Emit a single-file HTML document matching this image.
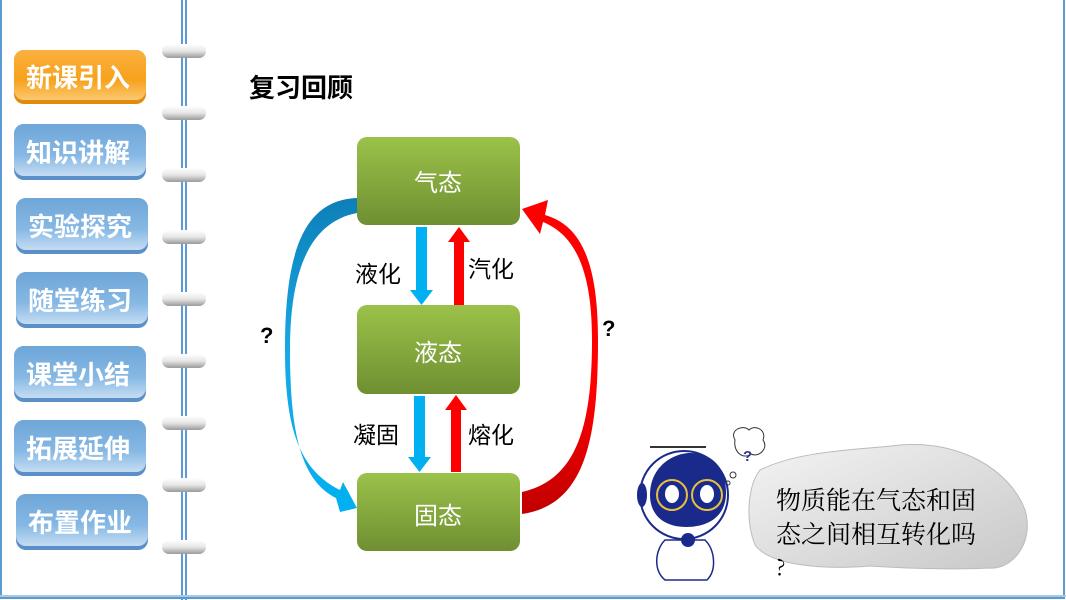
<!DOCTYPE html>
<html><head><meta charset="utf-8"><style>
body{margin:0;width:1066px;height:600px;overflow:hidden;background:#fff;font-family:"Liberation Sans","Noto Sans CJK SC",sans-serif;}
</style></head><body>
<svg width="1066" height="600" viewBox="0 0 1066 600" xmlns="http://www.w3.org/2000/svg" style="position:absolute;left:0;top:0">
<defs>
<linearGradient id="or" x1="0" y1="0" x2="0" y2="1"><stop offset="0" stop-color="#fbb040"/><stop offset="0.6" stop-color="#f7a21c"/><stop offset="1" stop-color="#fcc870"/></linearGradient>
<linearGradient id="bl" x1="0" y1="0" x2="0" y2="1"><stop offset="0" stop-color="#6ea6d8"/><stop offset="0.6" stop-color="#86b8e4"/><stop offset="1" stop-color="#c6ddf3"/></linearGradient>
<linearGradient id="gr" x1="0" y1="0" x2="0" y2="1"><stop offset="0" stop-color="#9bc24a"/><stop offset="1" stop-color="#6f8f32"/></linearGradient>
<linearGradient id="ring" x1="0" y1="0" x2="0" y2="1"><stop offset="0" stop-color="#fff"/><stop offset="0.5" stop-color="#e6e6e6"/><stop offset="1" stop-color="#9a9a9a"/></linearGradient>
<linearGradient id="cl" x1="0" y1="0" x2="1" y2="1"><stop offset="0" stop-color="#f4f4f4"/><stop offset="1" stop-color="#c8c8c8"/></linearGradient>
<linearGradient id="cb" x1="0" y1="0" x2="0" y2="1"><stop offset="0" stop-color="#0e7fb8"/><stop offset="0.5" stop-color="#16a9e4"/><stop offset="1" stop-color="#00b0f0"/></linearGradient>
<linearGradient id="cr" x1="0" y1="1" x2="0" y2="0"><stop offset="0" stop-color="#c00000"/><stop offset="0.4" stop-color="#ff0000"/><stop offset="1" stop-color="#ff0000"/></linearGradient>
</defs>
<rect x="1" y="-2" width="1063" height="600" fill="none" stroke="#5b9bd5" stroke-width="2"/>
<line x1="182" y1="0" x2="182" y2="600" stroke="#5b9bd5" stroke-width="2"/>
<line x1="186" y1="0" x2="186" y2="600" stroke="#5b9bd5" stroke-width="2"/>
<line x1="0" y1="596" x2="1066" y2="596" stroke="#a8c8e4" stroke-width="2"/>
<g fill="url(#ring)">
<rect x="162" y="44" width="44" height="14" rx="7"/>
<rect x="162" y="106" width="44" height="14" rx="7"/>
<rect x="162" y="168" width="44" height="14" rx="7"/>
<rect x="162" y="230" width="44" height="14" rx="7"/>
<rect x="162" y="292" width="44" height="14" rx="7"/>
<rect x="162" y="354" width="44" height="14" rx="7"/>
<rect x="162" y="416" width="44" height="14" rx="7"/>
<rect x="162" y="478" width="44" height="14" rx="7"/>
<rect x="162" y="540" width="44" height="14" rx="7"/>
</g>
<g font-size="26" font-weight="bold" fill="#fff" text-anchor="middle">
<rect x="14" y="50" width="132" height="54" rx="10" fill="#e08a10"/><rect x="14" y="50" width="132" height="50" rx="10" fill="url(#or)"/><text x="78" y="87">新课引入</text>
<rect x="14" y="124" width="132" height="56" rx="10" fill="#5b8fc8"/><rect x="14" y="124" width="132" height="52" rx="10" fill="url(#bl)"/><text x="78" y="162">知识讲解</text>
<rect x="16" y="198" width="132" height="56" rx="10" fill="#5b8fc8"/><rect x="16" y="198" width="132" height="52" rx="10" fill="url(#bl)"/><text x="80" y="236">实验探究</text>
<rect x="16" y="272" width="132" height="56" rx="10" fill="#5b8fc8"/><rect x="16" y="272" width="132" height="52" rx="10" fill="url(#bl)"/><text x="80" y="310">随堂练习</text>
<rect x="14" y="346" width="132" height="56" rx="10" fill="#5b8fc8"/><rect x="14" y="346" width="132" height="52" rx="10" fill="url(#bl)"/><text x="78" y="384">课堂小结</text>
<rect x="14" y="420" width="132" height="56" rx="10" fill="#5b8fc8"/><rect x="14" y="420" width="132" height="52" rx="10" fill="url(#bl)"/><text x="78" y="458">拓展延伸</text>
<rect x="16" y="494" width="132" height="56" rx="10" fill="#5b8fc8"/><rect x="16" y="494" width="132" height="52" rx="10" fill="url(#bl)"/><text x="80" y="532">布置作业</text>
</g>
<text x="249" y="97" font-size="26" font-weight="bold" fill="#000">复习回顾</text>
<rect x="357" y="137" width="163" height="88" rx="10" fill="url(#gr)"/>
<rect x="357" y="305" width="163" height="89" rx="10" fill="url(#gr)"/>
<rect x="357" y="473" width="163" height="78" rx="10" fill="url(#gr)"/>
<g font-size="24" fill="#fff" text-anchor="middle">
<text x="438" y="191">气态</text><text x="438" y="361">液态</text><text x="438" y="524">固态</text>
</g>
<path d="M416 227 h11 v63 h6 l-11.5 15 l-11.5 -15 h6z" fill="#00b0f0"/>
<path d="M454 305 v-63 h-6 l11 -15 l11 15 h-6 v63z" fill="#ff0000"/>
<path d="M414 396 h11 v61 h6 l-11.5 15 l-11.5 -15 h6z" fill="#00b0f0"/>
<path d="M451 472 v-62 h-6 l11 -15 l11 15 h-6 v62z" fill="#ff0000"/>
<g font-size="23" fill="#000">
<text x="355" y="282">液化</text><text x="468" y="277">汽化</text>
<text x="353" y="443">凝固</text><text x="468" y="443">熔化</text>
</g>
<path d="M357 198 C300 200 285 260 285 350 C285 430 300 470 340 490 L343 482 L357 508 L340 512 L336 498 C300 480 290 430 290 350 C290 270 310 222 357 213 Z" fill="url(#cb)"/>
<path d="M522 514 C585 505 598 440 598 340 C598 260 580 225 545 215 L548 200 L522 209 L540 234 L543 222 C575 235 592 270 592 340 C592 430 575 480 522 492 Z" fill="url(#cr)"/>
<g font-size="22" font-weight="bold" fill="#000"><text x="260" y="343">?</text><text x="602" y="336">?</text></g>
<path d="M760 470 C800 450 860 450 900 445 C960 440 1010 470 1025 510 C1035 545 1010 570 990 568 C950 570 900 568 870 566 C820 570 770 565 755 545 C745 520 748 485 760 470Z" fill="url(#cl)" stroke="#bbb" stroke-width="1"/>
<g font-size="25" fill="#000" font-family="'Noto Serif CJK SC','Noto Sans CJK SC',serif">
<text x="776" y="509">物质能在气态和固</text>
<text x="776" y="543">态之间相互转化吗</text>
<text x="776" y="575" font-size="22">?</text>
</g>
<g>
<path d="M735 440 c-6-10 8-16 14-10 c6-6 18 0 14 10 c6 8-4 18-12 14 c-8 6-18-2-16-14z" fill="#fff" stroke="#333"/>
<text x="743" y="461" font-size="15" font-weight="bold" fill="#2b3a8a">?</text>
<circle cx="733" cy="475" r="3" fill="none" stroke="#333"/><circle cx="728" cy="483" r="2" fill="none" stroke="#333"/>
<line x1="650" y1="447" x2="706" y2="447" stroke="#333" stroke-width="2"/>
<circle cx="684" cy="495" r="44" fill="#fff" stroke="#1a2a8a" stroke-width="2"/>
<path d="M650 495 c0-30 25-42 40-42 c20 0 36 12 36 40 c0 22-16 34-40 34 c-22 0-36-12-36-32z" fill="#1a2a8a"/>
<circle cx="672" cy="495" r="15" fill="none" stroke="#e8c040" stroke-width="2"/>
<circle cx="707" cy="495" r="15" fill="none" stroke="#e8c040" stroke-width="2"/>
<ellipse cx="672" cy="494" rx="7" ry="9" fill="#fff"/><ellipse cx="707" cy="494" rx="7" ry="9" fill="#fff"/>
<ellipse cx="642" cy="495" rx="5" ry="12" fill="#1a2a8a"/>
<path d="M665 540 c-10 10-12 30 0 40 h42 c10-10 8-30-2-40z" fill="#fff" stroke="#1a2a8a" stroke-width="1.5"/>
<circle cx="688" cy="540" r="7" fill="#1a2a8a"/>
</g>
</svg>
</body></html>
